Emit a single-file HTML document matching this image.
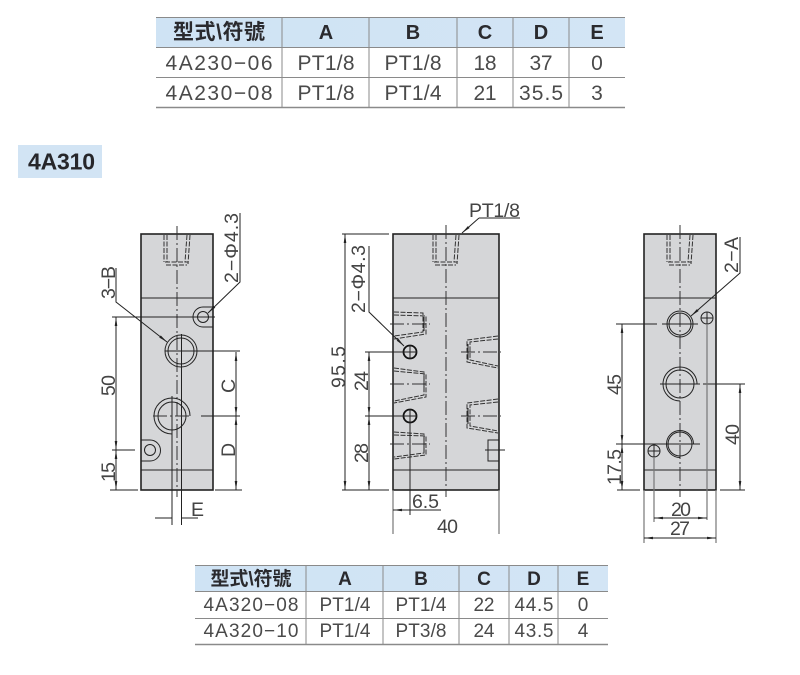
<!DOCTYPE html>
<html><head><meta charset="utf-8"><style>
html,body{margin:0;padding:0;background:#fff}
svg{display:block}
text{font-family:"Liberation Sans","Noto Sans CJK TC",sans-serif}
.r{font-size:21px;fill:#4a4a4a;text-anchor:middle}
.h{font-size:20px;font-weight:bold;fill:#2a2a2e;text-anchor:middle}
.r2{font-size:19px;fill:#4a4a4a;text-anchor:middle}
.h2{font-size:19px;font-weight:bold;fill:#2a2a2e;text-anchor:middle}
.d{font-size:19.500px;fill:#444}
.l{fill:none;stroke:#222;stroke-width:1}
.g{fill:none;stroke:#777;stroke-width:1.2}
.c{fill:none;stroke:#333;stroke-width:1;stroke-dasharray:14 3 2 3}
.b{fill:#d5d6d8;stroke:#222;stroke-width:1.6}
.dash{fill:none;stroke:#333;stroke-width:1;stroke-dasharray:5 1.5}
</style></head><body>
<svg width="800" height="675" viewBox="0 0 800 675" xmlns="http://www.w3.org/2000/svg">
<defs>
<linearGradient id="hg" x1="0" y1="0" x2="1" y2="0"><stop offset="0" stop-color="#cfe3f4"/><stop offset="1" stop-color="#d3e5f5"/></linearGradient>
<marker id="a" markerWidth="10" markerHeight="6" refX="9" refY="2.5" orient="auto-start-reverse" markerUnits="userSpaceOnUse"><path d="M0 1.2L9 2.5L0 3.8Z" fill="#222"/></marker>
<g id="top">
<path class="dash" d="M-13 1V28M-10 1V28M-12 28H11M-11 31H10M13 1L11 30M10 1L8 28"/>
</g>
</defs>

<!-- Table 1 -->
<rect x="156" y="18" width="469" height="29" fill="url(#hg)"/>
<g stroke="#8a8a8a" stroke-width="1" fill="none">
<path d="M156 17.500H625M156 47.500H625M156 77.500H625"/>
<path d="M156 107.500H625" stroke-width="1.6"/>
<path d="M282 17V108M369 17V108M457 17V108M513 17V108M569 17V108"/>
</g>
<text class="h" x="219" y="39" font-size="21" style="font-size:21px" textLength="92" lengthAdjust="spacing">型式\符號</text>
<text class="h" x="326" y="39">A</text><text class="h" x="413" y="39">B</text><text class="h" x="485" y="39">C</text><text class="h" x="541" y="39">D</text><text class="h" x="597" y="39">E</text>
<text class="r" x="219" y="70" textLength="107" lengthAdjust="spacing">4A230−06</text>
<text class="r" x="326" y="70" textLength="57" lengthAdjust="spacing">PT1/8</text><text class="r" x="413" y="70" textLength="57" lengthAdjust="spacing">PT1/8</text>
<text class="r" x="485" y="70" textLength="23" lengthAdjust="spacing">18</text><text class="r" x="541" y="70" textLength="23" lengthAdjust="spacing">37</text><text class="r" x="597" y="70">0</text>
<text class="r" x="219" y="100" textLength="107" lengthAdjust="spacing">4A230−08</text>
<text class="r" x="326" y="100" textLength="57" lengthAdjust="spacing">PT1/8</text><text class="r" x="413" y="100" textLength="57" lengthAdjust="spacing">PT1/4</text>
<text class="r" x="485" y="100" textLength="23" lengthAdjust="spacing">21</text><text class="r" x="541" y="100" textLength="44" lengthAdjust="spacing">35.5</text><text class="r" x="597" y="100">3</text>

<!-- Badge -->
<rect x="18" y="145" width="84" height="33" fill="#d2e4f4"/>
<text x="61.500" y="169.500" font-size="23" font-weight="bold" fill="#26262a" text-anchor="middle" textLength="67" lengthAdjust="spacing">4A310</text>

<!-- Left view -->
<rect class="b" x="141" y="234" width="72" height="256"/>
<path class="l" d="M141 298H213" stroke-width="1.2"/>
<path class="l" d="M141 470H213"/>
<path class="c" d="M177 226V497"/>
<use href="#top" x="177" y="234"/>
<circle class="l" cx="203" cy="317" r="5.500" stroke-width="1.6"/>
<path class="l" d="M203 307A10 10 0 1 0 203 327H213M203 307H213"/>
<circle class="l" cx="181" cy="351" r="16"/>
<circle class="l" cx="181" cy="351" r="13"/>
<path class="l" d="M172 434A18 18 0 1 1 190 416"/>
<circle class="l" cx="172" cy="416" r="14"/>
<circle class="l" cx="150" cy="450" r="5.500" stroke-width="1.6"/>
<path class="l" d="M141 440H150A10.500 10.500 0 1 1 150 461H141"/>
<path class="l" d="M172 396V525M181.500 334V525"/>
<path class="c" d="M153 416H192" stroke-dasharray="10 2 2 2"/>
<path class="l" d="M165 351H240M201 416H240M215 490H242M112 317H215M112 450H135M110 490H138M155 518H172M198 518H181" stroke-width="0.9"/>
<path class="l" d="M236 352V416" marker-start="url(#a)" marker-end="url(#a)"/>
<path class="l" d="M236 416V490" marker-start="url(#a)" marker-end="url(#a)"/>
<path class="l" d="M116 317V450" marker-start="url(#a)" marker-end="url(#a)"/>
<path class="l" d="M116 450V490" marker-start="url(#a)" marker-end="url(#a)"/>
<path class="l" d="M116 268V302L167 342" marker-end="url(#a)"/>
<path class="l" d="M240 213V282L208 313" marker-end="url(#a)"/>
<text class="d" transform="translate(115 299) rotate(-90)" textLength="33" lengthAdjust="spacing">3−B</text>
<text class="d" transform="translate(238 283) rotate(-90)" textLength="70" lengthAdjust="spacing">2−Φ4.3</text>
<text class="d" transform="translate(115 396) rotate(-90)" textLength="21" lengthAdjust="spacing">50</text>
<text class="d" transform="translate(115 482) rotate(-90)" textLength="20" lengthAdjust="spacing">15</text>
<text class="d" transform="translate(235 393) rotate(-90)">C</text>
<text class="d" transform="translate(235 457) rotate(-90)">D</text>
<text class="d" x="191" y="516">E</text>

<!-- Middle view -->
<rect class="b" x="393" y="234" width="106" height="256"/>
<path class="l" d="M393 298H499" stroke-width="1.2"/>
<path class="l" d="M393 470H499"/>
<path class="c" d="M446 225V497"/>
<use href="#top" x="446" y="234"/>
<g class="dash">
<path class="dash" d="M394 312L423 313V332L394 336M394 315L426 316V334L394 339"/>
<path class="dash" d="M394 368L424 372V395L394 401M394 371L426 374V397L394 403"/>
<path class="dash" d="M394 432L424 434V453L394 457M394 435L426 436V455L394 459"/>
<path class="dash" d="M498 336L467 340V362L498 368M498 339L470 342V360L498 366"/>
<path class="dash" d="M498 399L467 403V428L498 433M498 402L470 405V426L498 431"/>
</g>
<path class="c" d="M390 324H430M390 384H430M390 444H430M461 352H501M461 416H501" stroke-dasharray="18 2 2 2"/>
<path class="l" d="M424 317V331M424 376V392M424 437V452M468 344V360M468 408V424"/>
<rect class="l" x="488" y="440" width="11" height="21"/>
<path class="l" d="M485 450H505"/>
<circle cx="410" cy="352" r="6.500" fill="#d5d6d8" stroke="#111" stroke-width="1.8"/>
<circle cx="410" cy="416" r="6.500" fill="#d5d6d8" stroke="#111" stroke-width="1.8"/>
<path class="l" d="M365 352H417M365 416H417M410 345V359M410 409V515"/>
<path class="l" d="M369 246V312L404 346" marker-end="url(#a)"/>
<path class="l" d="M342 234H389M342 490H389"/>
<path class="l" d="M345 234V490" marker-start="url(#a)" marker-end="url(#a)"/>
<path class="l" d="M369 352V416" marker-start="url(#a)" marker-end="url(#a)"/>
<path class="l" d="M369 416V490" marker-start="url(#a)" marker-end="url(#a)"/>
<path class="g" d="M393 490V534M499 490V534"/>
<path class="l" d="M393 510H441" marker-start="url(#a)"/>
<path class="l" d="M479 218H520M479 218L462 233" marker-end="url(#a)"/>
<text class="d" x="469" y="217" textLength="51" lengthAdjust="spacing">PT1/8</text>
<text class="d" transform="translate(365 313) rotate(-90)" textLength="68" lengthAdjust="spacing">2−Φ4.3</text>
<text class="d" transform="translate(345 388) rotate(-90)" textLength="42" lengthAdjust="spacing">95.5</text>
<text class="d" transform="translate(368 391) rotate(-90)" textLength="20" lengthAdjust="spacing">24</text>
<text class="d" transform="translate(368 463) rotate(-90)" textLength="20" lengthAdjust="spacing">28</text>
<text class="d" x="412" y="508" textLength="27" lengthAdjust="spacing">6.5</text>
<text class="d" x="437" y="533" textLength="21" lengthAdjust="spacing">40</text>

<!-- Right view -->
<rect class="b" x="644" y="234" width="72" height="256"/>
<path class="l" d="M644 298H716" stroke-width="1.2"/>
<path class="l" d="M644 470H716"/>
<path class="c" d="M680 225V497"/>
<use href="#top" x="680" y="234"/>
<circle class="l" cx="680" cy="324" r="13"/>
<circle class="l" cx="680" cy="324" r="11" stroke-width="1.3"/>
<circle class="l" cx="707" cy="318" r="6" stroke-width="1.6"/>
<path class="l" d="M701 318H713M707 312V324"/>
<path class="l" d="M697 384A17 17 0 1 0 680 401"/>
<circle class="l" cx="680" cy="384" r="14"/>
<path class="l" d="M693.500 444A13.500 13.500 0 1 0 680 457.500"/>
<circle class="l" cx="680" cy="444" r="12"/>
<circle class="l" cx="654" cy="451" r="6" stroke-width="1.6"/>
<path class="l" d="M648 451H660M654 445V457"/>
<path class="l" d="M616 324H657M662 324H698M616 444H700M617 490H640M660 384H700M703 384H745M720 490H745" stroke-width="0.9"/>
<path class="g" d="M707 325V520M654 458V522M644 490V543M716 490V543"/>
<path class="l" d="M622 324V444" marker-start="url(#a)" marker-end="url(#a)"/>
<path class="l" d="M622 444V490" marker-start="url(#a)" marker-end="url(#a)"/>
<path class="l" d="M740 384V490" marker-start="url(#a)" marker-end="url(#a)"/>
<path class="l" d="M654 518H707" marker-start="url(#a)" marker-end="url(#a)"/>
<path class="l" d="M644 538H716" marker-start="url(#a)" marker-end="url(#a)"/>
<path class="l" d="M740 237V273L691 316" marker-end="url(#a)"/>
<text class="d" transform="translate(738 273) rotate(-90)" textLength="36" lengthAdjust="spacing">2−A</text>
<text class="d" transform="translate(621 395) rotate(-90)" textLength="21" lengthAdjust="spacing">45</text>
<text class="d" transform="translate(621 485) rotate(-90)" textLength="36" lengthAdjust="spacing">17.5</text>
<text class="d" transform="translate(739 445) rotate(-90)" textLength="21" lengthAdjust="spacing">40</text>
<text class="d" x="671" y="516" textLength="20" lengthAdjust="spacing">20</text>
<text class="d" x="670" y="535" textLength="20" lengthAdjust="spacing">27</text>

<!-- Table 2 -->
<rect x="195" y="566" width="413" height="25" fill="url(#hg)"/>
<g stroke="#8a8a8a" stroke-width="1" fill="none">
<path d="M195 565.500H608M195 591.500H608M195 618.500H608"/>
<path d="M195 644.500H608" stroke-width="1.6"/>
<path d="M306 566V645M383 566V645M459 566V645M509 566V645M558 566V645"/>
</g>
<text class="h2" x="251" y="585" textLength="81" lengthAdjust="spacing">型式\符號</text>
<text class="h2" x="345" y="585">A</text><text class="h2" x="421" y="585">B</text><text class="h2" x="484" y="585">C</text><text class="h2" x="534" y="585">D</text><text class="h2" x="583" y="585">E</text>
<text class="r2" x="251" y="611" textLength="95" lengthAdjust="spacing">4A320−08</text>
<text class="r2" x="345" y="611" textLength="51" lengthAdjust="spacing">PT1/4</text><text class="r2" x="421" y="611" textLength="51" lengthAdjust="spacing">PT1/4</text>
<text class="r2" x="484" y="611" textLength="21" lengthAdjust="spacing">22</text><text class="r2" x="534" y="611" textLength="39" lengthAdjust="spacing">44.5</text><text class="r2" x="583" y="611">0</text>
<text class="r2" x="251" y="637" textLength="95" lengthAdjust="spacing">4A320−10</text>
<text class="r2" x="345" y="637" textLength="51" lengthAdjust="spacing">PT1/4</text><text class="r2" x="421" y="637" textLength="51" lengthAdjust="spacing">PT3/8</text>
<text class="r2" x="484" y="637" textLength="21" lengthAdjust="spacing">24</text><text class="r2" x="534" y="637" textLength="39" lengthAdjust="spacing">43.5</text><text class="r2" x="583" y="637">4</text>
</svg>
</body></html>
